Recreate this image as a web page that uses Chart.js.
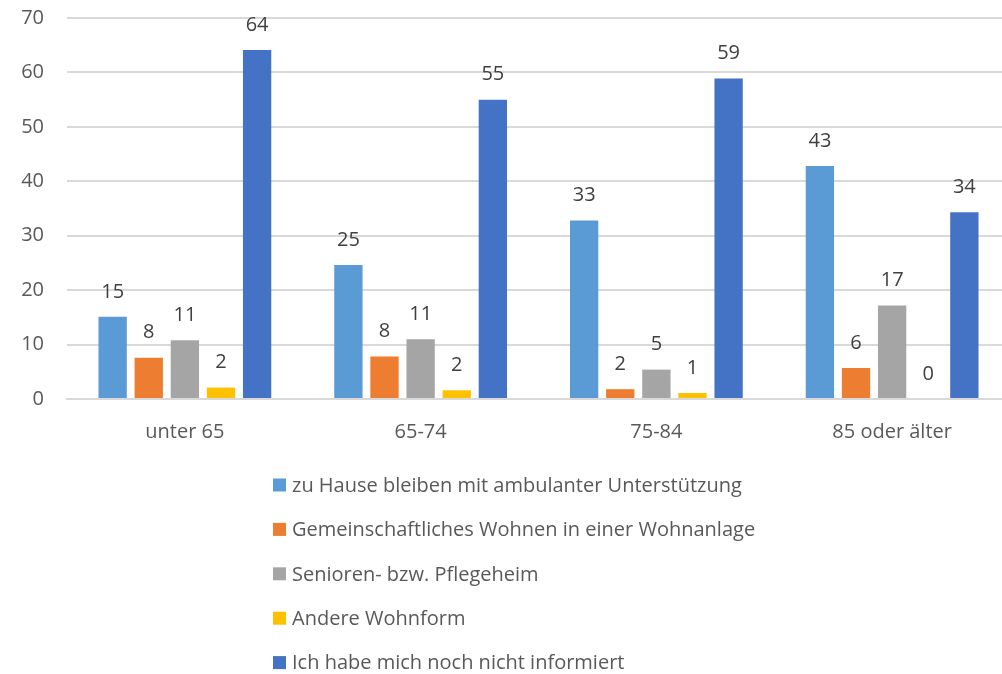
<!DOCTYPE html>
<html lang="de">
<head>
<meta charset="utf-8">
<title>Wohnform nach Altersgruppe</title>
<script src="https://cdn.jsdelivr.net/npm/chart.js@4.4.1/dist/chart.umd.min.js"></script>
<style>
  html, body { margin: 0; padding: 0; background: #ffffff; overflow: hidden; }
  #wrap { width: 1002px; height: 674px; position: relative; overflow: hidden; }
  #chart { display: block; }
</style>
</head>
<body>
<div id="wrap"><canvas id="chart" width="1010" height="674"></canvas></div>
<script>
// Altersgruppen (x-Achse)
const ageGroups = ['unter 65', '65-74', '75-84', '85 oder älter'];

// Reihen: Anteil in Prozent je Altersgruppe
const seriesNames = [
  'zu Hause bleiben mit ambulanter Unterstützung',
  'Gemeinschaftliches Wohnen in einer Wohnanlage',
  'Senioren- bzw. Pflegeheim',
  'Andere Wohnform',
  'Ich habe mich noch nicht informiert'
];
const zuHause       = [15.1, 24.6, 32.8, 42.8];
const gemeinschaft  = [7.6, 7.8, 1.8, 5.7];
const pflegeheim    = [10.8, 11.0, 5.4, 17.2];
const andere        = [2.1, 1.6, 1.1, 0.0];
const nichtInfo     = [64.1, 55.0, 58.9, 34.3];

// y-Achse
const yTicks = [0, 10, 20, 30, 40, 50, 60, 70];

const seriesColors = ['#5B9BD5', '#ED7D31', '#A5A5A5', '#FFC000', '#4472C4'];
const seriesValues = [zuHause, gemeinschaft, pflegeheim, andere, nichtInfo];

const FONT = '"Open Sans", "Noto Sans", sans-serif';

// Werte über den Säulen
const valueLabels = {
  id: 'valueLabels',
  afterDatasetsDraw(chart) {
    const ctx = chart.ctx;
    ctx.save();
    ctx.font = '20px ' + FONT;
    ctx.fillStyle = '#404040';
    ctx.textAlign = 'center';
    ctx.textBaseline = 'middle';
    chart.data.datasets.forEach((ds, i) => {
      const meta = chart.getDatasetMeta(i);
      meta.data.forEach((bar, j) => {
        ctx.fillText(String(Math.round(ds.data[j])), bar.x, bar.y - 25);
      });
    });
    ctx.restore();
  }
};

// Legende untereinander unter dem Diagramm
const stackedLegend = {
  id: 'stackedLegend',
  afterDraw(chart) {
    const ctx = chart.ctx;
    ctx.save();
    ctx.font = '20px ' + FONT;
    ctx.textAlign = 'left';
    ctx.textBaseline = 'middle';
    const x0 = 273, y0 = 485, step = 44.4, box = 13;
    chart.data.datasets.forEach((ds, i) => {
      const y = y0 + i * step;
      ctx.fillStyle = ds.backgroundColor;
      ctx.fillRect(x0, y - box / 2, box, box);
      ctx.fillStyle = '#595959';
      ctx.fillText(ds.label, x0 + 19, y + 1);
    });
    ctx.restore();
  }
};

new Chart(document.getElementById('chart'), {
  type: 'bar',
  data: {
    labels: ageGroups,
    datasets: seriesNames.map((name, i) => ({
      label: name,
      data: seriesValues[i],
      backgroundColor: seriesColors[i],
      borderWidth: 0,
      categoryPercentage: 0.766,
      barPercentage: 0.784
    }))
  },
  options: {
    responsive: false,
    animation: false,
    devicePixelRatio: 1,
    layout: { padding: { top: 18, right: 0, left: 0, bottom: 0 } },
    plugins: {
      legend: { display: false },
      tooltip: { enabled: false }
    },
    scales: {
      x: {
        grid: { display: false, drawTicks: false },
        border: { display: true, color: '#D9D9D9', width: 2 },
        ticks: { color: '#595959', font: { family: FONT, size: 20 }, padding: 21 },
        afterFit(scale) { scale.height = 275; }
      },
      y: {
        min: 0,
        max: 70,
        afterBuildTicks(scale) { scale.ticks = yTicks.map(v => ({ value: v })); },
        grid: { color: '#D9D9D9', lineWidth: 2, drawTicks: false },
        border: { display: false },
        ticks: { color: '#595959', font: { family: FONT, size: 20 }, padding: 23 },
        afterFit(scale) { scale.width = 67; scale.paddingTop = 0; scale.paddingBottom = 0; }
      }
    }
  },
  plugins: [valueLabels, stackedLegend]
});
</script>
</body>
</html>
